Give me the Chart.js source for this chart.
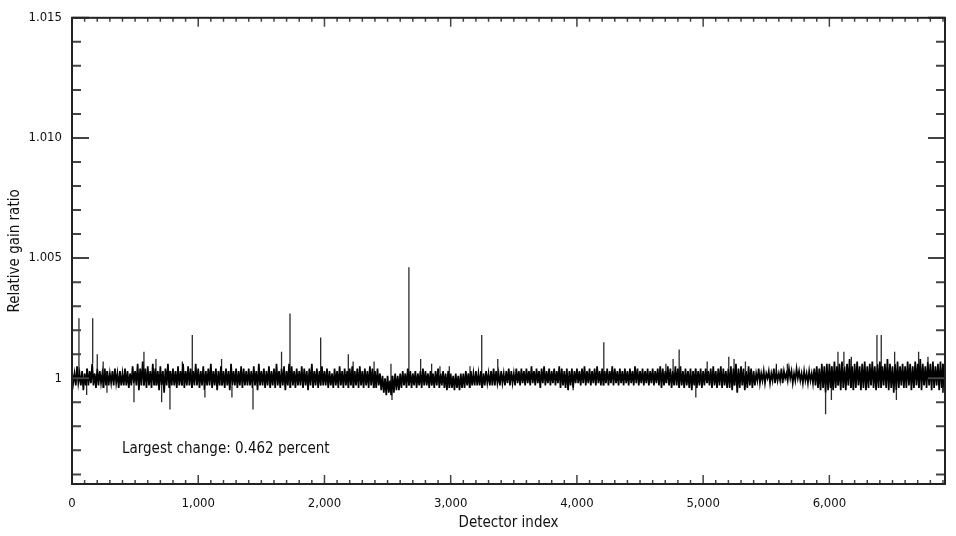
<!DOCTYPE html>
<html>
<head>
<meta charset="utf-8">
<script src="https://cdn.jsdelivr.net/npm/chart.js@4.4.1/dist/chart.umd.min.js"></script>
<style>
html, body { margin: 0; padding: 0; background: #fff; }
#wrap { width: 956px; height: 536px; }
</style>
</head>
<body>
<div id="wrap"><canvas id="gainChart"></canvas></div>
<script>
// band values read every 10th detector (one row = 200 detectors)
var step = 10;
var bandValues = [
 1.0003,0.9998,1.0002,0.9997,1.0005,0.9998,1.0002,0.9997,1.0003,0.9995,1.0002,0.9997,1.0004,0.9997,1.0003,0.9998,1.0006,0.9997,1.0002,0.9996,
 1.0004,0.9997,1.0003,0.9998,1.0002,0.9996,1.0004,0.9997,1.0003,0.9997,1.0002,0.9998,1.0003,0.9997,1.0004,0.9998,1.0002,0.9996,1.0003,0.9997,
 1.0002,0.9997,1.0004,0.9997,1.0003,0.9996,1.0002,0.9997,1.0005,0.9998,1.0003,0.9997,1.0006,0.9995,1.0004,0.9997,1.0007,0.9997,1.0004,0.9996,
 1.0005,0.9997,1.0003,0.9996,1.0006,0.9997,1.0004,0.9997,1.0003,0.9995,1.0005,0.9997,1.0003,0.9994,1.0004,0.9997,1.0006,0.9996,1.0003,0.9997,
 1.0004,0.9997,1.0003,0.9996,1.0005,0.9997,1.0003,0.9997,1.0006,0.9996,1.0003,0.9997,1.0005,0.9997,1.0004,0.9996,1.0003,0.9997,1.0006,0.9997,
 1.0004,0.9996,1.0003,0.9997,1.0005,0.9995,1.0003,0.9997,1.0004,0.9997,1.0006,0.9996,1.0003,0.9997,1.0004,0.9995,1.0003,0.9997,1.0005,0.9997,
 1.0003,0.9996,1.0004,0.9997,1.0003,0.9995,1.0006,0.9997,1.0003,0.9997,1.0004,0.9996,1.0003,0.9997,1.0005,0.9996,1.0004,0.9997,1.0003,0.9997,
 1.0004,0.9997,1.0003,0.9996,1.0005,0.9997,1.0003,0.9995,1.0006,0.9997,1.0003,0.9997,1.0004,0.9996,1.0003,0.9997,1.0005,0.9996,1.0003,0.9997,
 1.0004,0.9996,1.0006,0.9997,1.0003,0.9996,1.0004,0.9997,1.0005,0.9995,1.0003,0.9997,1.0006,0.9996,1.0005,0.9997,1.0003,0.9996,1.0004,0.9997,
 1.0003,0.9997,1.0005,0.9996,1.0004,0.9997,1.0003,0.9995,1.0004,0.9997,1.0006,0.9996,1.0003,0.9997,1.0004,0.9996,1.0003,0.9997,1.0005,0.9997,
 1.0003,0.9997,1.0004,0.9996,1.0003,0.9997,1.0002,0.9996,1.0004,0.9997,1.0003,0.9996,1.0005,0.9997,1.0003,0.9996,1.0004,0.9997,1.0003,0.9996,
 1.0004,0.9997,1.0005,0.9996,1.0003,0.9997,1.0004,0.9996,1.0005,0.9997,1.0003,0.9996,1.0004,0.9997,1.0003,0.9996,1.0005,0.9997,1.0004,0.9996,
 1.0003,0.9996,1.0004,0.9997,1.0002,0.9995,1.0001,0.9994,1.0000,0.9993,1.0001,0.9994,0.9999,0.9993,1.0001,0.9994,1.0002,0.9995,1.0001,0.9995,
 1.0002,0.9996,1.0003,0.9997,1.0002,0.9996,1.0004,0.9997,1.0003,0.9996,1.0002,0.9997,1.0003,0.9996,1.0002,0.9997,1.0003,0.9996,1.0004,0.9997,
 1.0003,0.9997,1.0002,0.9996,1.0003,0.9997,1.0002,0.9996,1.0003,0.9997,1.0004,0.9996,1.0002,0.9997,1.0003,0.9996,1.0002,0.9995,1.0003,0.9996,
 1.0002,0.9996,1.0001,0.9995,1.0002,0.9996,1.0001,0.9995,1.0002,0.9996,1.0002,0.9996,1.0003,0.9997,1.0002,0.9996,1.0003,0.9997,1.0002,0.9997,
 1.0003,0.9997,1.0002,0.9997,1.0003,0.9996,1.0002,0.9997,1.0003,0.9998,1.0002,0.9997,1.0003,0.9997,1.0004,0.9997,1.0003,0.9998,1.0002,0.9997,
 1.0003,0.9998,1.0002,0.9997,1.0003,0.9998,1.0004,0.9997,1.0003,0.9998,1.0002,0.9997,1.0004,0.9998,1.0003,0.9997,1.0004,0.9998,1.0003,0.9997,
 1.0004,0.9998,1.0003,0.9997,1.0005,0.9998,1.0003,0.9997,1.0004,0.9998,1.0003,0.9996,1.0004,0.9998,1.0005,0.9997,1.0003,0.9998,1.0004,0.9997,
 1.0003,0.9998,1.0004,0.9997,1.0003,0.9998,1.0005,0.9996,1.0004,0.9997,1.0003,0.9996,1.0004,0.9995,1.0003,0.9997,1.0004,0.9996,1.0003,0.9998,
 1.0004,0.9998,1.0003,0.9997,1.0004,0.9998,1.0005,0.9997,1.0003,0.9998,1.0004,0.9997,1.0003,0.9998,1.0004,0.9997,1.0005,0.9998,1.0003,0.9997,
 1.0004,0.9997,1.0003,0.9998,1.0004,0.9997,1.0003,0.9998,1.0005,0.9997,1.0004,0.9998,1.0003,0.9997,1.0004,0.9998,1.0003,0.9997,1.0004,0.9998,
 1.0003,0.9997,1.0004,0.9998,1.0003,0.9997,1.0005,0.9998,1.0004,0.9997,1.0003,0.9998,1.0004,0.9997,1.0003,0.9998,1.0004,0.9997,1.0003,0.9998,
 1.0004,0.9997,1.0003,0.9998,1.0004,0.9997,1.0005,0.9996,1.0004,0.9997,1.0003,0.9998,1.0005,0.9997,1.0004,0.9996,1.0003,0.9997,1.0005,0.9997,
 1.0004,0.9996,1.0005,0.9997,1.0003,0.9996,1.0004,0.9997,1.0003,0.9996,1.0004,0.9995,1.0003,0.9997,1.0004,0.9996,1.0003,0.9997,1.0004,0.9996,
 1.0003,0.9997,1.0004,0.9998,1.0003,0.9997,1.0004,0.9996,1.0005,0.9997,1.0003,0.9996,1.0004,0.9997,1.0005,0.9996,1.0004,0.9997,1.0003,0.9996,
 1.0004,0.9996,1.0005,0.9995,1.0004,0.9997,1.0006,0.9994,1.0004,0.9996,1.0005,0.9997,1.0004,0.9995,1.0003,0.9996,1.0005,0.9997,1.0004,0.9996,
 1.0003,0.9997,1.0002,0.9999,1.0004,0.9998,1.0002,0.9999,1.0003,0.9998,1.0002,1.0000,1.0003,0.9998,1.0002,0.9999,1.0004,0.9998,1.0003,0.9999,
 1.0002,0.9999,1.0004,0.9998,1.0003,1.0000,1.0002,0.9999,1.0004,1.0000,1.0003,0.9998,1.0002,0.9999,1.0004,1.0000,1.0003,0.9999,1.0002,0.9998,
 1.0003,0.9999,1.0002,0.9998,1.0003,0.9999,1.0002,0.9998,1.0004,0.9997,1.0005,0.9996,1.0004,0.9995,1.0006,0.9996,1.0005,0.9994,1.0006,0.9995,
 1.0006,0.9996,1.0005,0.9995,1.0007,0.9996,1.0005,0.9997,1.0006,0.9995,1.0007,0.9996,1.0005,0.9995,1.0006,0.9997,1.0008,0.9996,1.0005,0.9995,
 1.0006,0.9996,1.0007,0.9997,1.0005,0.9995,1.0006,0.9996,1.0007,0.9995,1.0005,0.9996,1.0006,0.9997,1.0007,0.9996,1.0005,0.9995,1.0006,0.9996,
 1.0007,0.9996,1.0005,0.9997,1.0006,0.9996,1.0008,0.9995,1.0006,0.9996,1.0005,0.9994,1.0006,0.9995,1.0007,0.9996,1.0005,0.9997,1.0006,0.9996,
 1.0005,0.9996,1.0007,0.9997,1.0006,0.9995,1.0005,0.9996,1.0007,0.9997,1.0006,0.9996,1.0008,0.9995,1.0006,0.9997,1.0005,0.9996,1.0007,0.9997,
 1.0006,0.9995,1.0007,0.9996,1.0005,0.9997,1.0006,0.9995,1.0007,0.9996,1.0006,0.9994
];
// single detectors that stick out of the band
var spikeIdx = [55,116,164,200,247,277,491,570,665,710,776,874,953,1053,1185,1267,1434,1660,1727,
  1970,2189,2227,2393,2527,2535,2669,2762,2849,2915,2989,3153,3246,3373,3970,4213,4705,4762,4810,
  4942,5032,5203,5245,5335,5580,5667,5970,6016,6068,6115,6174,6377,6411,6517,6531,6707,6781,6897];
var spikeVal = [1.0025,0.9993,1.0025,1.0010,1.0007,0.9994,0.9990,1.0011,1.0008,0.9990,0.9987,1.0007,1.0018,0.9992,1.0008,0.9992,0.9987,1.0011,1.0027,
  1.0017,1.0010,1.0007,1.0007,1.0006,0.9991,1.00462,1.0008,1.0006,1.0005,1.0005,1.0005,1.0018,1.0008,0.9995,1.0015,1.0006,1.0008,1.0012,
  0.9992,1.0007,1.0009,1.0008,1.0007,1.0006,1.0006,0.9985,0.9991,1.0011,1.0011,1.0009,1.0018,1.0018,1.0011,0.9991,1.0011,1.0009,0.9994];

var xTicks = [0,1000,2000,3000,4000,5000,6000];
var yTicks = [1,1.005,1.010,1.015];
var xMax = 6916, yMin = 0.9956, yMax = 1.015;
var note = 'Largest change: 0.462 percent';
var narrow = "'Liberation Sans Narrow', 'DejaVu Sans Condensed', sans-serif";

var band = bandValues.map(function (v, i) { return { x: i * step, y: v }; });
// each spike: from the band value next to it up/down to the spike value, then a gap
var spikes = [];
spikeIdx.forEach(function (d, i) {
  var near = bandValues[Math.min(bandValues.length - 1, Math.round(d / step))];
  spikes.push({ x: d, y: near }, { x: d, y: spikeVal[i] }, { x: d, y: null });
});

// inward ticks, frame and the note
var frame = {
  id: 'frame',
  afterDatasetsDraw: function (chart) {
    var c = chart.ctx, a = chart.chartArea, xs = chart.scales.x, ys = chart.scales.y;
    c.save();
    c.strokeStyle = '#444';
    c.lineWidth = 1.5;
    c.beginPath();
    for (var v = 0; v <= xMax; v += 100) {
      var px = xs.getPixelForValue(v);
      var len = v % 1000 === 0 ? 9 : 4;
      c.moveTo(px, a.bottom); c.lineTo(px, a.bottom - len);
      c.moveTo(px, a.top); c.lineTo(px, a.top + len);
    }
    c.stroke();
    c.lineWidth = 2;
    c.beginPath();
    for (var k = 996; k <= 1015; k++) {
      var py = ys.getPixelForValue(k / 1000);
      var l = k % 5 === 0 ? 17 : 9;
      c.moveTo(a.left, py); c.lineTo(a.left + l, py);
      c.moveTo(a.right, py); c.lineTo(a.right - l, py);
    }
    c.stroke();
    c.strokeStyle = '#222';
    c.lineWidth = 2;
    c.strokeRect(a.left, a.top, a.right - a.left, a.bottom - a.top);
    c.fillStyle = '#111';
    c.font = '15px ' + narrow;
    c.textBaseline = 'middle';
    c.fillText(note, xs.getPixelForValue(396), ys.getPixelForValue(0.99705));
    c.restore();
  }
};

new Chart(document.getElementById('gainChart'), {
  type: 'line',
  data: {
    datasets: [{
      data: band,
      borderColor: '#000',
      borderWidth: 1.7,
      pointRadius: 0,
      tension: 0,
      fill: false
    }, {
      data: spikes,
      borderColor: '#2a2a2a',
      borderWidth: 1.3,
      pointRadius: 0,
      tension: 0,
      spanGaps: false,
      fill: false
    }]
  },
  options: {
    responsive: true,
    maintainAspectRatio: false,
    animation: false,
    events: [],
    layout: { padding: { left: 0, right: 11, top: 14, bottom: 0 } },
    plugins: { legend: { display: false }, tooltip: { enabled: false } },
    scales: {
      x: {
        type: 'linear',
        min: 0, max: xMax,
        grid: { display: false, drawTicks: false },
        border: { display: false },
        afterBuildTicks: function (s) { s.ticks = xTicks.map(function (v) { return { value: v }; }); },
        afterFit: function (s) { s.height = 52; },
        ticks: {
          autoSkip: false, maxRotation: 0, padding: 12, color: '#111',
          font: { family: narrow, size: 13 },
          callback: function (v) { return v.toLocaleString('en-US'); }
        },
        title: { display: true, text: 'Detector index', color: '#111', font: { family: narrow, size: 15 }, padding: { top: 0, bottom: 4 } }
      },
      y: {
        min: yMin, max: yMax,
        grid: { display: false, drawTicks: false },
        border: { display: false },
        afterBuildTicks: function (s) { s.ticks = yTicks.map(function (v) { return { value: v }; }); },
        afterFit: function (s) { s.width = 72; },
        ticks: {
          padding: 10, color: '#111',
          font: { family: narrow, size: 13 },
          callback: function (v) { return v === 1 ? '1' : v.toFixed(3); }
        },
        title: { display: true, text: 'Relative gain ratio', color: '#111', font: { family: narrow, size: 15 }, padding: { top: 6, bottom: 0 } }
      }
    }
  },
  plugins: [frame]
});
</script>
</body>
</html>
